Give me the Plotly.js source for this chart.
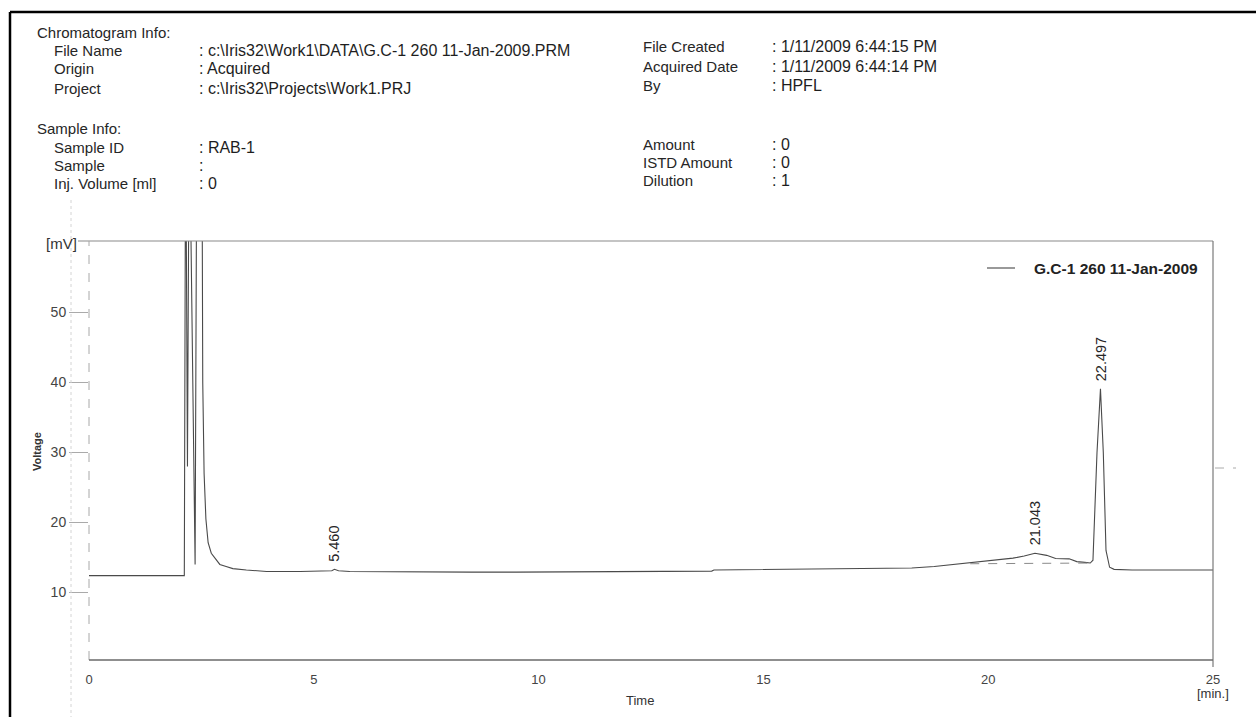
<!DOCTYPE html>
<html>
<head>
<meta charset="utf-8">
<script src="https://cdn.plot.ly/plotly-3.0.1.min.js"></script>
<style>
html,body{margin:0;padding:0;background:#fff;}
#chart{width:1256px;height:717px;}
</style>
</head>
<body>
<div id="chart"></div>
<script>
// ---- data ----
const seriesName = "G.C-1 260 11-Jan-2009";
const timeMin = [0, 1.0, 2.12, 2.15, 2.19, 2.23, 2.36, 2.40, 2.51, 2.53, 2.56, 2.60, 2.65, 2.72, 2.80, 2.91, 3.05, 3.20, 3.5, 3.95, 4.7,
  5.2, 5.40, 5.46, 5.55, 5.8, 6.5, 7.5, 8.5, 9.5, 10.5, 11.5, 12.5, 13.5, 13.85, 13.9, 14.5, 15.5, 16.5, 17.5, 18.3, 18.8, 19.5,
  20.0, 20.55, 20.8, 21.04, 21.3, 21.5, 21.8, 21.97, 22.15, 22.27, 22.33, 22.42, 22.497, 22.56, 22.62, 22.7, 22.8, 23.2, 24.0, 25.0];
const voltageMv = [12.4, 12.4, 12.4, 80, 28, 80, 14, 80, 80, 40, 27, 20.5, 17.1, 15.6, 14.9, 14.0, 13.7, 13.4, 13.2, 13.0, 13.0,
  13.0, 13.1, 13.3, 13.1, 13.0, 12.95, 12.9, 12.9, 12.9, 12.95, 13.0, 13.0, 13.05, 13.05, 13.2, 13.25, 13.3, 13.35, 13.45, 13.5, 13.7, 14.2,
  14.6, 14.9, 15.2, 15.6, 15.3, 14.85, 14.8, 14.4, 14.3, 14.2, 14.6, 30, 39.1, 30, 16, 13.6, 13.3, 13.2, 13.2, 13.2];
const baselineTime = [19.6, 22.3];
const baselineMv = [14.1, 14.2];
const peakTimes = [5.460, 21.043, 22.497];
const peakHeights = [13.3, 15.6, 39.1];
const peakLabels = ["5.460", "21.043", "22.497"];
const yTickVals = [10, 20, 30, 40, 50];
const xTickVals = [0, 5, 10, 15, 20, 25];

const infoLeftLabels = ["File Name", "Origin", "Project"];
const infoLeftValues = [": c:\\Iris32\\Work1\\DATA\\G.C-1 260 11-Jan-2009.PRM", ": Acquired", ": c:\\Iris32\\Projects\\Work1.PRJ"];
const infoRightLabels = ["File Created", "Acquired Date", "By"];
const infoRightValues = [": 1/11/2009 6:44:15 PM", ": 1/11/2009 6:44:14 PM", ": HPFL"];
const sampleLeftLabels = ["Sample ID", "Sample", "Inj. Volume [ml]"];
const sampleLeftValues = [": RAB-1", ":", ": 0"];
const sampleRightLabels = ["Amount", "ISTD Amount", "Dilution"];
const sampleRightValues = [": 0", ": 0", ": 1"];

// ---- geometry helpers (pixel -> paper) ----
const W = 1256, H = 717;
const M = {l: 89, r: 43, t: 241, b: 57};
const PW = W - M.l - M.r, PH = H - M.t - M.b;
const px = x => (x - M.l) / PW;
const py = y => (H - M.b - y) / PH;

const FONT = '"Liberation Sans", Arial, sans-serif';
const TXT = '#262626';
const annotations = [];
function txt(x, y, text, opt) {
  annotations.push(Object.assign({
    xref: 'paper', yref: 'paper', x: px(x), y: py(y), text: text, showarrow: false,
    xanchor: 'left', yanchor: 'middle', font: {family: FONT, size: 15, color: TXT}
  }, opt || {}));
}
const valFont = {font: {family: FONT, size: 16, color: '#1e1e1e'}};
txt(35, 32, "Chromatogram Info:");
txt(35, 128, "Sample Info:");
const leftRowsY1 = [50, 69, 88], rightRowsY1 = [47, 66, 85];
const leftRowsY2 = [147, 165, 183], rightRowsY2 = [144, 163, 181];
infoLeftLabels.forEach((t, i) => { txt(52, leftRowsY1[i], t); txt(197, leftRowsY1[i], infoLeftValues[i], valFont); });
infoRightLabels.forEach((t, i) => { txt(641, rightRowsY1[i], t); txt(770, rightRowsY1[i], infoRightValues[i], valFont); });
sampleLeftLabels.forEach((t, i) => { txt(52, leftRowsY2[i], t); txt(197, leftRowsY2[i], sampleLeftValues[i], valFont); });
sampleRightLabels.forEach((t, i) => { txt(641, rightRowsY2[i], t); txt(770, rightRowsY2[i], sampleRightValues[i], valFont); });

// axis texts
txt(44, 243, "[mV]", {font: {family: FONT, size: 15, color: '#333'}});
txt(37, 452, "Voltage", {textangle: -90, xanchor: 'center', font: {family: FONT, size: 11, color: '#333', weight: 'bold'}});
txt(640, 700, "Time", {xanchor: 'center', font: {family: FONT, size: 13, color: '#333'}});
txt(1213, 693, "[min.]", {xanchor: 'center', font: {family: FONT, size: 13, color: '#333'}});

// legend (drawn manually to match the original spacing)
txt(1032, 268, seriesName, {font: {family: FONT, size: 15.5, color: '#222', weight: 'bold'}});

// peak labels
peakTimes.forEach((t, i) => {
  annotations.push({
    xref: 'x', yref: 'y', x: t, y: peakHeights[i], text: peakLabels[i], showarrow: false,
    textangle: -90, xanchor: 'center', yanchor: 'bottom', yshift: 6,
    font: {family: FONT, size: 14.5, color: TXT}
  });
});

const shapes = [
  // page border
  {type: 'line', xref: 'paper', yref: 'paper', x0: px(10), x1: px(1256), y0: py(12), y1: py(12), line: {color: '#000', width: 2.5}},
  {type: 'line', xref: 'paper', yref: 'paper', x0: px(10), x1: px(10), y0: py(12), y1: py(717), line: {color: '#000', width: 2.5}},
  // faint dotted scan line
  {type: 'line', xref: 'paper', yref: 'paper', x0: px(71), x1: px(71), y0: py(200), y1: py(717), line: {color: '#d4d4d4', width: 1, dash: 'dot'}},
  // plot frame
  {type: 'line', xref: 'paper', yref: 'paper', x0: px(78), x1: px(1213), y0: 1, y1: 1, line: {color: '#8a8a8a', width: 1.2}},
  {type: 'line', xref: 'paper', yref: 'paper', x0: 0, x1: 0, y0: 0, y1: 1, line: {color: '#a8a8a8', width: 1, dash: 'dash'}},
  {type: 'line', xref: 'paper', yref: 'paper', x0: 1, x1: 1, y0: py(667), y1: 1, line: {color: '#7a7a7a', width: 1.2}},
  {type: 'line', xref: 'paper', yref: 'paper', x0: 0, x1: 1, y0: 0, y1: 0, line: {color: '#6a6a6a', width: 1.5}},
  // legend sample line
  {type: 'line', xref: 'paper', yref: 'paper', x0: px(987), x1: px(1015), y0: py(268), y1: py(268), line: {color: '#555', width: 1.2}},
  // small scan mark at right
  {type: 'line', xref: 'paper', yref: 'paper', x0: px(1215), x1: px(1236), y0: py(468), y1: py(468), line: {color: '#aaa', width: 1, dash: 'dash'}}
];

const traces = [
  {x: timeMin, y: voltageMv, type: 'scatter', mode: 'lines', name: seriesName,
   line: {color: '#4a4a4a', width: 1.1}, hoverinfo: 'x+y'},
  {x: baselineTime, y: baselineMv, type: 'scatter', mode: 'lines', name: 'baseline',
   line: {color: '#8a8a8a', width: 1, dash: 'dash'}}
];

const layout = {
  width: W, height: H,
  margin: M,
  paper_bgcolor: '#fff', plot_bgcolor: '#fff',
  showlegend: false,
  xaxis: {range: [0, 25], tickvals: xTickVals, ticktext: xTickVals.map(String), showgrid: false, zeroline: false,
          showline: false, ticks: 'outside', ticklen: 7, tickcolor: 'rgba(0,0,0,0)',
          tickfont: {family: FONT, size: 13, color: '#444'}, fixedrange: true},
  yaxis: {range: [0.35, 60.2], tickvals: yTickVals, ticktext: yTickVals.map(String), showgrid: false, zeroline: false,
          showline: false, ticks: 'outside', ticklen: 19, tickcolor: '#aaa', tickwidth: 1,
          tickfont: {family: FONT, size: 14, color: '#444'}, fixedrange: true},
  annotations: annotations,
  shapes: shapes
};

Plotly.newPlot('chart', traces, layout, {displayModeBar: false, staticPlot: true});
</script>
</body>
</html>
